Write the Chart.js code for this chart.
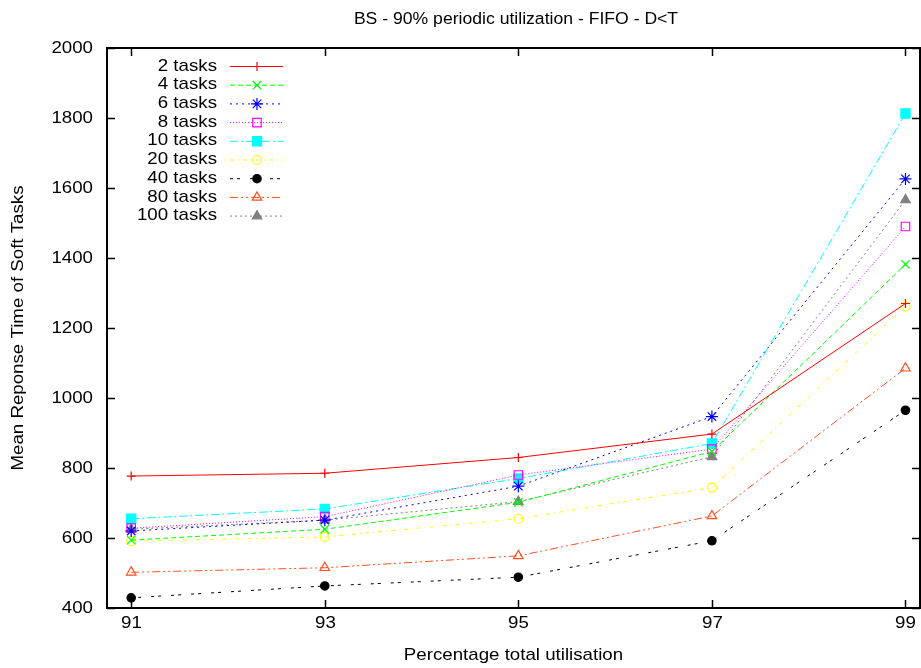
<!DOCTYPE html>
<html>
<head>
<meta charset="utf-8">
<script src="https://cdn.jsdelivr.net/npm/chart.js@4/dist/chart.umd.min.js"></script>
<style>
html,body{margin:0;padding:0;background:#fff;}
#wrap{width:921px;height:668px;position:relative;}
</style>
</head>
<body>
<div id="wrap"><canvas id="c" width="921" height="668"></canvas></div>
<script>
const utilisation = [91, 93, 95, 97, 99];
const xTicks = [91, 93, 95, 97, 99];
const yTicks = [400, 600, 800, 1000, 1200, 1400, 1600, 1800, 2000];
const seriesNames = ['2 tasks','4 tasks','6 tasks','8 tasks','10 tasks','20 tasks','40 tasks','80 tasks','100 tasks'];
const tasks2   = [777, 785, 830, 897, 1270];
const tasks4   = [594, 625, 702, 847, 1382];
const tasks6   = [620, 651, 748, 947, 1626];
const tasks8   = [628, 661, 780, 854, 1490];
const tasks10  = [655, 683, 770, 870, 1813];
const tasks20  = [591, 603, 655, 744, 1262];
const tasks40  = [429, 463, 488, 592, 965];
const tasks80  = [502, 515, 549, 663, 1085];
const tasks100 = [625, 651, 704, 832, 1566];
const titleText = 'BS - 90% periodic utilization - FIFO - D<T';
const xTitle = 'Percentage total utilisation';
const yTitle = 'Mean Reponse Time of Soft Tasks';

const seriesValues = [tasks2, tasks4, tasks6, tasks8, tasks10, tasks20, tasks40, tasks80, tasks100];
const styles = [
  {c:'#ff0000', dash:[], ps:'cross', pr:4.5, fill:false},
  {c:'#00ff00', dash:[5,3], ps:'crossRot', pr:6, fill:false},
  {c:'#0000ff', dash:[2,4], ps:'star', pr:6, fill:false},
  {c:'#ff00ff', dash:[1,2], ps:'rect', pr:6, fill:false},
  {c:'#00ffff', dash:[8,3,2,3], ps:'rect', pr:6.5, fill:true},
  {c:'#ffff00', dash:[4,4,1,4], ps:'circle', pr:4.5, fill:false},
  {c:'#000000', dash:[3,4,3,10], ps:'circle', pr:4.2, fill:true},
  {c:'#ff4f1f', dash:[8,3,2,3,2,3], ps:'triangle', pr:5.5, fill:false},
  {c:'#808080', dash:[2,3], ps:'triangle', pr:5.5, fill:true}
];

const datasets = seriesNames.map((name, i) => ({
  label: name,
  data: utilisation.map((x, j) => ({x: x, y: seriesValues[i][j]})),
  borderColor: styles[i].c,
  backgroundColor: styles[i].fill ? styles[i].c : 'rgba(0,0,0,0)',
  borderWidth: 1,
  borderDash: styles[i].dash,
  pointStyle: styles[i].ps,
  pointRadius: styles[i].pr,
  pointBorderWidth: 1.2,
  pointBorderColor: styles[i].c,
  pointBackgroundColor: styles[i].fill ? styles[i].c : 'rgba(0,0,0,0)',
  tension: 0,
  fill: false,
  clip: false
}));

const FONT = '"Liberation Sans", Arial, sans-serif';
const FS = 17, SX = 1.1;

function stretchText(ctx, text, x, y, align) {
  ctx.save();
  ctx.translate(x, y);
  ctx.scale(SX, 1);
  ctx.textAlign = align;
  ctx.fillText(text, 0, 0);
  ctx.restore();
}

const framePlugin = {
  id: 'frame',
  afterDraw(chart) {
    const ctx = chart.ctx;
    const a = chart.chartArea;
    const xs = chart.scales.x, ys = chart.scales.y;
    ctx.save();
    ctx.strokeStyle = '#000';
    ctx.lineWidth = 2;
    ctx.setLineDash([]);
    ctx.strokeRect(a.left, a.top, a.right - a.left, a.bottom - a.top);
    ctx.lineWidth = 1.5;
    const tl = 8;
    ctx.fillStyle = '#000';
    ctx.font = FS + 'px ' + FONT;
    ctx.textBaseline = 'middle';
    xs.ticks.forEach(t => {
      const px = Math.round(xs.getPixelForValue(t.value)) + 0.5;
      ctx.beginPath();
      ctx.moveTo(px, a.bottom); ctx.lineTo(px, a.bottom - tl);
      ctx.moveTo(px, a.top); ctx.lineTo(px, a.top + tl);
      ctx.stroke();
      stretchText(ctx, String(t.value), px, a.bottom + 15, 'center');
    });
    ys.ticks.forEach(t => {
      const py = Math.round(ys.getPixelForValue(t.value)) + 0.5;
      ctx.beginPath();
      ctx.moveTo(a.left, py); ctx.lineTo(a.left + tl, py);
      ctx.moveTo(a.right, py); ctx.lineTo(a.right - tl, py);
      ctx.stroke();
      stretchText(ctx, String(t.value), a.left - 14, py, 'right');
    });
    // axis titles
    stretchText(ctx, xTitle, (a.left + a.right) / 2, 655, 'center');
    ctx.save();
    ctx.translate(18, (a.top + a.bottom) / 2);
    ctx.rotate(-Math.PI / 2);
    ctx.scale(SX, 1);
    ctx.textAlign = 'center';
    ctx.fillText(yTitle, 0, 0);
    ctx.restore();
    // title
    ctx.font = '16px ' + FONT;
    stretchText(ctx, titleText, 516, 20, 'center');
    // legend
    ctx.font = FS + 'px ' + FONT;
    const x0 = 217, y0 = 66, dy = 18.7;
    chart.data.datasets.forEach((ds, i) => {
      const y = y0 + i * dy;
      ctx.fillStyle = '#000';
      stretchText(ctx, ds.label, x0, y, 'right');
      ctx.strokeStyle = ds.borderColor;
      ctx.lineWidth = 1;
      ctx.setLineDash(ds.borderDash);
      ctx.beginPath();
      ctx.moveTo(230, y + 0.5); ctx.lineTo(283, y + 0.5);
      ctx.stroke();
      ctx.setLineDash([]);
      ctx.fillStyle = ds.pointBackgroundColor;
      ctx.strokeStyle = ds.pointBorderColor;
      ctx.lineWidth = ds.pointBorderWidth;
      Chart.helpers.drawPoint(ctx, {
        pointStyle: ds.pointStyle, radius: ds.pointRadius, rotation: 0,
        borderWidth: ds.pointBorderWidth
      }, 257, y + 0.5);
    });
    ctx.restore();
  }
};

new Chart(document.getElementById('c'), {
  type: 'line',
  data: { datasets: datasets },
  options: {
    responsive: false,
    animation: false,
    devicePixelRatio: 1,
    layout: { autoPadding: false, padding: { top: 48, right: 1, left: 0, bottom: 0 } },
    plugins: { legend: { display: false }, title: { display: false }, tooltip: { enabled: false } },
    scales: {
      x: {
        type: 'linear',
        min: 90.75, max: 99.15,
        afterBuildTicks(scale) { scale.ticks = xTicks.map(v => ({value: v})); },
        afterFit(scale) { scale.height = 60; scale.paddingLeft = 0; scale.paddingRight = 0; },
        grid: { display: false, drawTicks: false },
        border: { display: false },
        ticks: { display: false }
      },
      y: {
        min: 400, max: 2000,
        afterBuildTicks(scale) { scale.ticks = yTicks.map(v => ({value: v})); },
        afterFit(scale) { scale.width = 107; scale.paddingTop = 0; scale.paddingBottom = 0; },
        grid: { display: false, drawTicks: false },
        border: { display: false },
        ticks: { display: false }
      }
    }
  },
  plugins: [framePlugin]
});
</script>
</body>
</html>
